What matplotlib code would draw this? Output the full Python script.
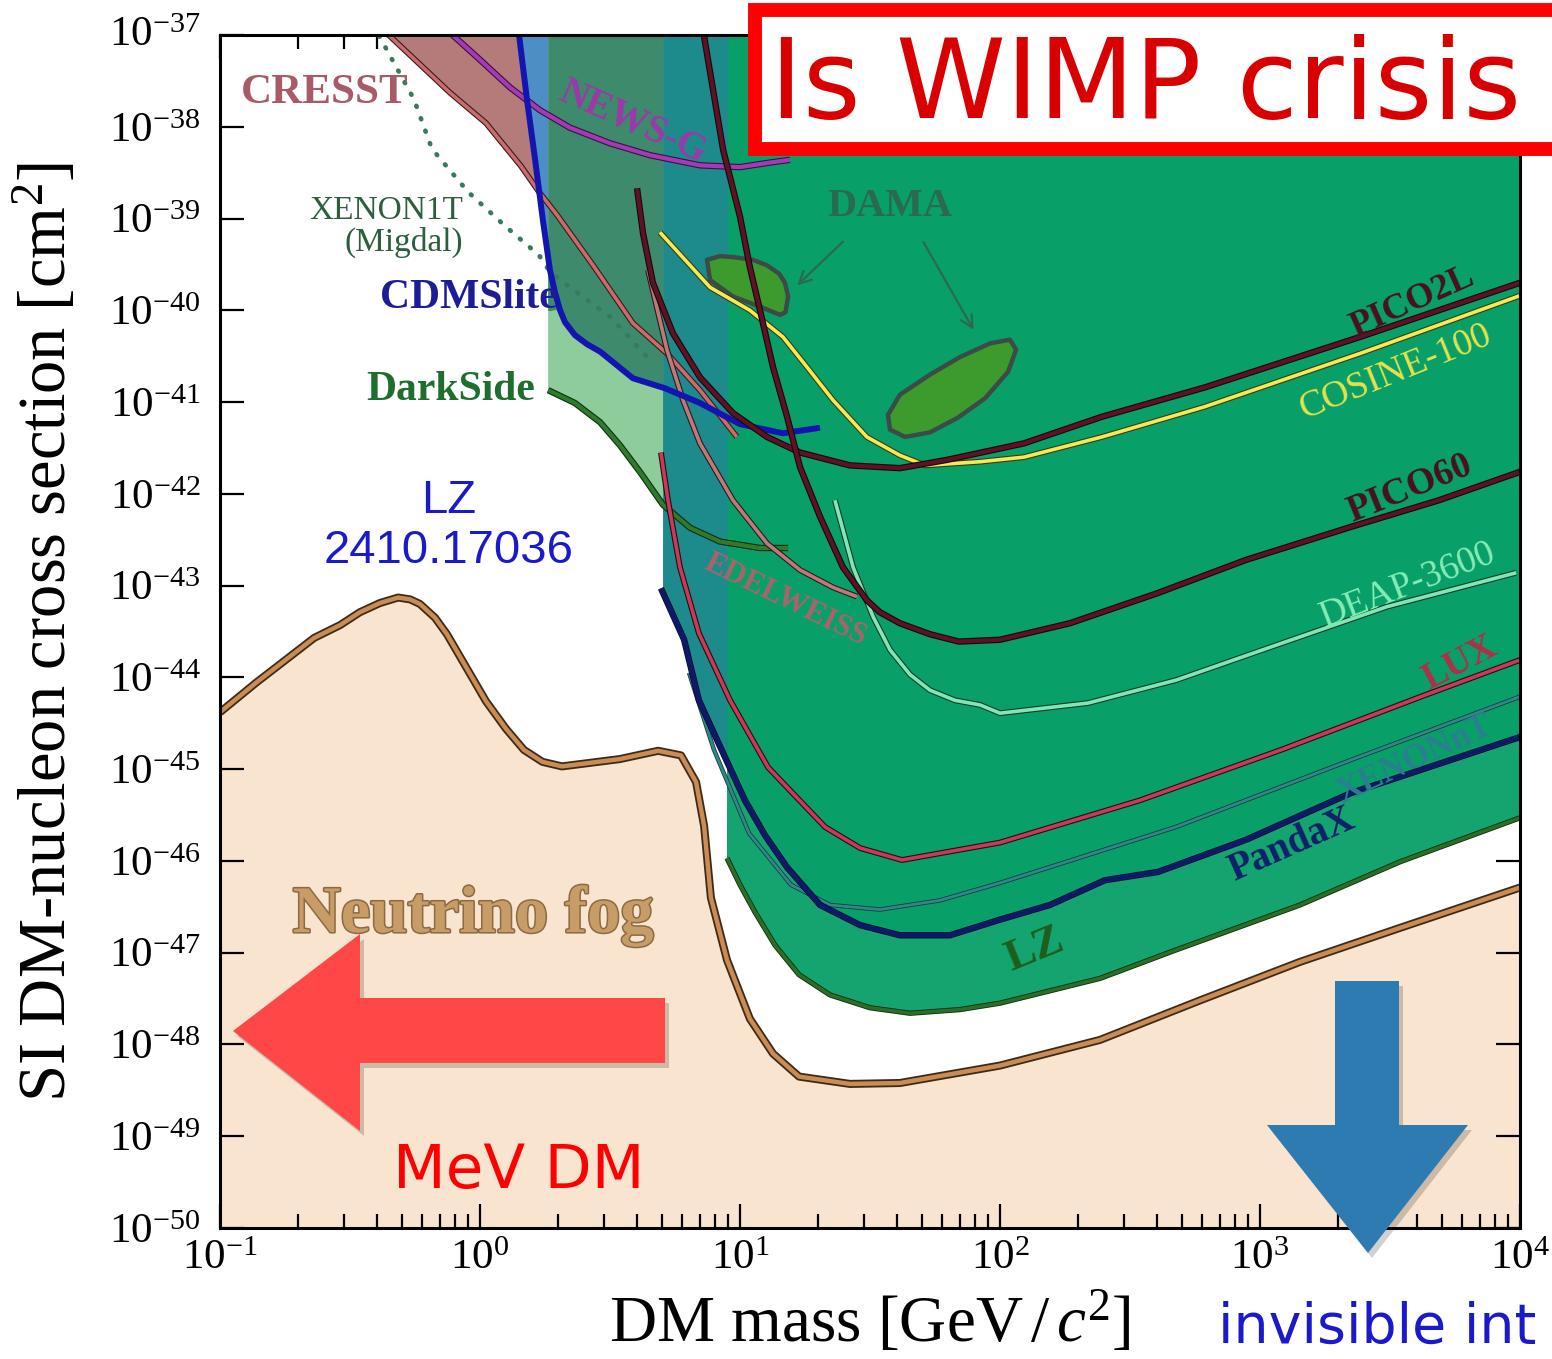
import numpy as np
import matplotlib
matplotlib.use('Agg')
import matplotlib.pyplot as plt
from matplotlib.patches import Polygon, Rectangle
import matplotlib.patheffects as pe
from matplotlib.ticker import LogLocator, NullLocator, NullFormatter, FuncFormatter

# ---------------- data: log10(mass / GeV) and log10(sigma / cm^2) ----------------
fog_lx = [-1.000, -0.862, -0.638, -0.538, -0.462, -0.385, -0.315, -0.269, -0.231, -0.173, -0.127, 0.023,
          0.100, 0.169, 0.240, 0.315, 0.538, 0.685, 0.773, 0.831, 0.862, 0.888, 0.950, 1.038, 1.127, 1.227,
          1.423, 1.615, 2.000, 2.385, 2.769, 3.154, 3.538, 4.000]
fog_ly = [-44.38, -44.06, -43.57, -43.43, -43.29, -43.19, -43.13, -43.15, -43.20, -43.35, -43.53, -44.26,
          -44.56, -44.79, -44.92, -44.97, -44.89, -44.80, -44.85, -45.14, -45.62, -46.40, -47.08, -47.72,
          -48.10, -48.35, -48.43, -48.42, -48.23, -47.95, -47.52, -47.10, -46.73, -46.29]

lz_lx = [0.950, 1.000, 1.058, 1.135, 1.227, 1.346, 1.500, 1.654, 1.846, 2.000, 2.385, 2.677, 3.154, 3.538, 4.000]
lz_ly = [-45.97, -46.26, -46.56, -46.92, -47.24, -47.46, -47.60, -47.66, -47.62, -47.55, -47.28, -46.97, -46.48, -46.01, -45.53]

pandax_lx = [0.696, 0.785, 0.842, 0.900, 1.019, 1.096, 1.181, 1.308, 1.462, 1.615, 1.808, 2.000, 2.192, 2.404,
             2.608, 2.946, 3.350, 4.000]
pandax_ly = [-43.03, -43.59, -44.25, -44.61, -45.34, -45.72, -46.07, -46.48, -46.70, -46.81, -46.81, -46.64,
             -46.48, -46.21, -46.12, -45.77, -45.26, -44.65]

xenonnt_lx = [0.804, 0.900, 1.035, 1.196, 1.346, 1.538, 1.769, 2.000, 2.677, 3.350, 4.000]
xenonnt_ly = [-43.95, -44.79, -45.70, -46.26, -46.48, -46.53, -46.43, -46.24, -45.63, -44.90, -44.21]

lux_lx = [0.696, 0.723, 0.769, 0.842, 0.962, 1.108, 1.192, 1.327, 1.462, 1.623, 2.000, 2.538, 3.081, 3.619, 4.000]
lux_ly = [-41.55, -42.07, -42.80, -43.52, -44.25, -44.98, -45.23, -45.63, -45.86, -45.99, -45.80, -45.34, -44.79,
          -44.21, -43.81]

deap_lx = [1.365, 1.435, 1.512, 1.577, 1.654, 1.731, 1.827, 1.923, 2.000, 2.338, 2.677, 3.081, 3.488, 3.985]
deap_ly = [-42.07, -42.80, -43.34, -43.70, -43.97, -44.14, -44.25, -44.30, -44.39, -44.28, -44.03, -43.63,
           -43.23, -42.86]

pico60_lx = [0.858, 0.935, 1.000, 1.038, 1.077, 1.127, 1.181, 1.231, 1.308, 1.396, 1.488, 1.538, 1.615, 1.731,
             1.842, 2.000, 2.269, 2.608, 2.946, 3.350, 3.688, 4.000]
pico60_ly = [-36.95, -38.25, -38.98, -39.53, -40.00, -40.62, -41.16, -41.71, -42.25, -42.80, -43.16, -43.29,
             -43.41, -43.53, -43.61, -43.59, -43.41, -43.08, -42.72, -42.36, -42.07, -41.76]

pico2l_lx = [0.604, 0.627, 0.665, 0.742, 0.846, 0.973, 1.104, 1.231, 1.423, 1.615, 1.796, 2.092, 2.392, 2.788, 3.385, 4.000]
pico2l_ly = [-38.67, -39.16, -39.70, -40.25, -40.73, -41.12, -41.38, -41.55, -41.69, -41.72, -41.63, -41.45, -41.16, -40.84, -40.29, -39.70]

cosine_lx = [0.692, 0.885, 1.038, 1.165, 1.258, 1.358, 1.488, 1.615, 1.712, 1.923, 2.092, 2.392, 2.788, 3.385, 4.000]
cosine_ly = [-39.15, -39.75, -40.00, -40.29, -40.62, -40.98, -41.38, -41.58, -41.69, -41.65, -41.60, -41.38, -41.05, -40.47, -39.84]

edelweiss_lx = [0.646, 0.719, 0.781, 0.846, 0.973, 1.104, 1.231, 1.358, 1.450]
edelweiss_ly = [-39.56, -40.43, -40.98, -41.45, -42.07, -42.54, -42.83, -43.02, -43.12]

cresst_lx = [-0.370, -0.115, 0.023, 0.158, 0.227, 0.296, 0.435, 0.588, 0.719, 0.846, 0.988]
cresst_ly = [-36.95, -37.63, -37.96, -38.43, -38.71, -38.96, -39.51, -40.14, -40.47, -40.87, -41.38]

cdmslite_lx = [0.148, 0.181, 0.212, 0.242, 0.269, 0.288, 0.308, 0.327, 0.365, 0.412, 0.462, 0.588, 0.712,
               0.846, 1.000, 1.165, 1.308]
cdmslite_ly = [-36.95, -37.71, -38.36, -39.02, -39.56, -39.80, -40.00, -40.13, -40.27, -40.37, -40.45, -40.74,
               -40.85, -41.01, -41.24, -41.34, -41.28]

newsg_lx = [-0.125, 0.000, 0.115, 0.231, 0.346, 0.500, 0.654, 0.846, 1.000, 1.115, 1.192]
newsg_ly = [-36.95, -37.27, -37.57, -37.82, -38.01, -38.18, -38.31, -38.42, -38.44, -38.39, -38.36]

migdal_lx = [-0.388, -0.254, -0.185, -0.046, 0.092, 0.227, 0.269, 0.365, 0.504, 0.669]
migdal_ly = [-37.01, -37.70, -38.24, -38.71, -39.07, -39.40, -39.58, -39.79, -40.08, -40.59]

darkside_lx = [0.262, 0.365, 0.462, 0.538, 0.615, 0.704, 0.808, 0.923, 1.077, 1.185]
darkside_ly = [-40.87, -41.01, -41.22, -41.47, -41.76, -42.12, -42.37, -42.52, -42.59, -42.59]

dama1_lx = [0.873, 0.923, 0.973, 1.050, 1.104, 1.150, 1.173, 1.185, 1.175, 1.154, 1.077, 0.973, 0.885]
dama1_ly = [-39.45, -39.41, -39.42, -39.45, -39.51, -39.60, -39.70, -39.85, -40.02, -40.05, -39.96, -39.85, -39.67]
dama2_lx = [1.569, 1.615, 1.731, 1.846, 1.962, 2.038, 2.062, 2.031, 1.942, 1.838, 1.731, 1.635, 1.577]
dama2_ly = [-41.14, -40.92, -40.70, -40.51, -40.36, -40.32, -40.43, -40.67, -40.96, -41.17, -41.33, -41.38, -41.30]

# shaded exclusion regions (boundaries)
cresst_reg_lx = [-0.37, 0.150, 0.150, 0.181, 0.212, 0.230, 0.158, 0.023, -0.115, -0.362]
cresst_reg_ly = [-36.9, -36.9, -37.00, -37.71, -38.36, -38.73, -38.43, -37.96, -37.63, -36.98]
blue_reg_lx = [0.150, 0.262, 0.262, 0.242, 0.212, 0.181, 0.150]
blue_reg_ly = [-36.9, -36.9, -39.40, -39.02, -38.36, -37.71, -37.00]
dark_reg_lx = [0.262, 0.704, 0.704, 0.588, 0.462, 0.365, 0.308, 0.262]
dark_reg_ly = [-36.9, -36.9, -40.84, -40.74, -40.45, -40.27, -40.00, -40.01]
ds_reg_lx = [0.262, 0.308, 0.365, 0.462, 0.588, 0.704, 0.704, 0.615, 0.538, 0.462, 0.365, 0.262]
ds_reg_ly = [-40.01, -40.00, -40.27, -40.45, -40.74, -40.84, -42.12, -41.76, -41.47, -41.22, -41.01, -40.87]
teal_reg_lx = [0.704, 0.954, 0.954, 0.900, 0.842, 0.785, 0.704]
teal_reg_ly = [-36.9, -36.9, -44.93, -44.61, -44.25, -43.59, -43.08]

x_ticks_exp = [-1, 0, 1, 2, 3, 4]
y_top_exp = -37

# ---------------- figure ----------------
plt.rcParams['font.family'] = ['Liberation Serif', 'DejaVu Serif']
plt.rcParams['mathtext.fontset'] = 'custom'
plt.rcParams['mathtext.rm'] = 'Liberation Serif'
plt.rcParams['mathtext.it'] = 'Liberation Serif:italic'
plt.rcParams['mathtext.bf'] = 'Liberation Serif:bold'

W, H = 1552, 1359
fig = plt.figure(figsize=(W / 100, H / 100), dpi=100)
ax = fig.add_axes([220 / W, 1 - 1228 / H, 1300 / W, 1193 / H])
ax.set_xscale('log')
ax.set_yscale('log')
ax.set_xlim(10.0 ** x_ticks_exp[0], 10.0 ** x_ticks_exp[-1])
ax.set_ylim(1e-50, 10.0 ** y_top_exp)


def xy(lx, ly):
    return 10.0 ** np.asarray(lx, float), 10.0 ** np.asarray(ly, float)


def region(lx, ly, color, z=2.0):
    x, y = xy(lx, ly)
    ax.add_patch(Polygon(np.column_stack([x, y]), closed=True, fc=color, ec='none', zorder=z))


def curve(lx, ly, color, lw, edge=None, ew=None, z=4, **kw):
    x, y = xy(lx, ly)
    eff = [pe.Stroke(linewidth=ew, foreground=edge), pe.Normal()] if edge else []
    ax.plot(x, y, color=color, lw=lw, zorder=z, path_effects=eff, solid_capstyle='butt',
            solid_joinstyle='round', **kw)


# neutrino fog
fx, fy = xy(fog_lx, fog_ly)
ax.fill_between(fx, fy, 1e-52, color='#f9e4cf', lw=0, zorder=1)

# regions
region(cresst_reg_lx, cresst_reg_ly, '#b47b7a')
region(blue_reg_lx, blue_reg_ly, '#4d8fc4')
region(dark_reg_lx, dark_reg_ly, '#3d8a6c')
region(ds_reg_lx, ds_reg_ly, '#8fcc9b')
region(teal_reg_lx, teal_reg_ly, '#1d8a8c')
region([0.954, 4.05, 4.05] + lz_lx[::-1], [-36.9, -36.9, lz_ly[-1]] + lz_ly[::-1], '#08a068')
region([0.954] + pandax_lx[4:] + lz_lx[::-1], [-44.93] + pandax_ly[4:] + lz_ly[::-1], '#14a46f', z=2.1)

# DAMA islands
for dlx, dly in [(dama1_lx, dama1_ly), (dama2_lx, dama2_ly)]:
    x, y = xy(dlx, dly)
    ax.add_patch(Polygon(np.column_stack([x, y]), closed=True, fc='#3d9b2e', ec='#3b4b45',
                         lw=3.2, joinstyle='round', zorder=3.5))

# curves
curve(fog_lx, fog_ly, '#c98c55', 3.2, '#3d2a18', 5.8, z=3)
curve(darkside_lx, darkside_ly, '#2f7a2f', 3.0, '#0f300f', 4.6)
curve(migdal_lx, migdal_ly, '#3a7a5a', 3.4, z=4, linestyle=(0, (0.2, 2.6)), dash_capstyle='round')
curve(cresst_lx, cresst_ly, '#c86c6c', 2.6, '#3a1a1a', 4.2)
curve(edelweiss_lx, edelweiss_ly, '#be7a7a', 2.6, '#2a1a1a', 4.2)
curve(newsg_lx, newsg_ly, '#a53ab5', 3.0, '#3a1040', 4.6)
curve(cdmslite_lx, cdmslite_ly, '#1414b0', 4.3)
curve(pico2l_lx, pico2l_ly, '#5e1226', 3.0, '#1a0508', 4.6, z=4.2)
curve(cosine_lx, cosine_ly, '#f2ea5a', 2.6, '#3a3a10', 4.2, z=4.1)
curve(pico60_lx, pico60_ly, '#5e1226', 3.0, '#1a0508', 4.6, z=4.3)
curve(deap_lx, deap_ly, '#7ee8b4', 2.6, '#1a3a2a', 4.2)
curve(lux_lx, lux_ly, '#c83a5a', 2.6, '#2a0a10', 4.2)
curve(xenonnt_lx, xenonnt_ly, '#2f8888', 2.0, '#183c40', 3.2)
curve(pandax_lx, pandax_ly, '#0e1a66', 3.6, '#050a30', 4.6)
curve(lz_lx, lz_ly, '#2a6e2a', 2.6, '#0d2d0d', 3.8)

# DAMA arrows
for (x0, y0), (x1, y1) in [((1.404, -39.23), (1.212, -39.75)), ((1.700, -39.23), (1.904, -40.24))]:
    ax.annotate('', xy=(10 ** x1, 10 ** y1), xytext=(10 ** x0, 10 ** y0), zorder=5,
                arrowprops=dict(arrowstyle='->', color='#2b6a52', lw=1.6, mutation_scale=22))

# labels
labels = [
    ('CRESST', -0.596, -37.63, 0, '#a85a66', 31, 'bold'),
    ('NEWS-G', 0.585, -37.95, -24, '#9a3aa8', 28, 'bold'),
    ('CDMSlite', -0.042, -39.87, 0, '#1c1c98', 30, 'bold'),
    ('DarkSide', -0.112, -40.87, 0, '#1e6e2e', 30, 'bold'),
    ('DAMA', 1.577, -38.87, 0, '#2a6a50', 29, 'bold'),
    ('PICO2L', 3.585, -39.91, 24, '#4a1020', 26, 'bold'),
    ('COSINE-100', 3.523, -40.67, 22, '#e8e24a', 27, 'normal'),
    ('PICO60', 3.577, -41.94, 22, '#4a1020', 27, 'bold'),
    ('DEAP-3600', 3.569, -42.99, 21, '#86ecb6', 27, 'normal'),
    ('LUX', 3.769, -43.84, 28, '#b03048', 27, 'bold'),
    ('XENONnT', 3.596, -44.90, 25, '#2a7f8f', 25, 'bold'),
    ('PandaX', 3.123, -45.83, 24, '#10206a', 28, 'bold'),
    ('LZ', 2.135, -46.97, 22, '#1e5e1e', 32, 'bold'),
    ('EDELWEISS', 1.173, -43.16, -26, '#a8646c', 22, 'bold'),
]
for txt, lx, ly, rot, col, size, wt in labels:
    ax.text(10 ** lx, 10 ** ly, txt, rotation=rot, rotation_mode='anchor', ha='center', va='center',
            color=col, fontsize=size, fontweight=wt, zorder=7)

ax.text(10 ** -0.065, 10 ** -39.09, 'XENON1T\n(Migdal)', ha='right', va='center', multialignment='right',
        color='#2d5e3e', fontsize=24, linespacing=1.05, zorder=7)
ax.text(10 ** -0.027, 10 ** -46.59, 'Neutrino fog', ha='center', va='center', color='#c79c66',
        fontsize=48, fontweight='bold', zorder=7,
        path_effects=[pe.Stroke(linewidth=2.2, foreground='#8b6a45'), pe.Normal()])
ax.text(10 ** -0.119, 10 ** -42.35, 'LZ\n2410.17036', ha='center', va='center', multialignment='center',
        color='#1a1acc', fontsize=34, family='Liberation Sans', linespacing=1.15, zorder=7)


# axes styling
def y_decade(v, pos):
    e = int(round(np.log10(v)))
    # the topmost label is drawn separately (top-aligned) so it stays inside the figure
    return '' if e == y_top_exp else r'$\mathdefault{10^{%d}}$' % e


ax.xaxis.set_major_locator(LogLocator(base=10, numticks=15))
ax.xaxis.set_minor_locator(LogLocator(base=10, subs=np.arange(2, 10), numticks=15))
ax.xaxis.set_minor_formatter(NullFormatter())
ax.yaxis.set_major_locator(LogLocator(base=10, numticks=20))
ax.yaxis.set_minor_locator(NullLocator())
ax.yaxis.set_major_formatter(FuncFormatter(y_decade))
ax.tick_params(which='both', direction='in', top=True, right=True, width=1.6, colors='black')
ax.tick_params(which='major', length=17, labelsize=31)
ax.tick_params(which='minor', length=10)
ax.tick_params(axis='x', which='major', pad=8)
ax.tick_params(axis='y', which='major', pad=14)
for s in ax.spines.values():
    s.set_linewidth(2.2)
    s.set_zorder(6)

fig.text(201 / W, 1 - 16 / H, r'$\mathdefault{10^{%d}}$' % y_top_exp, ha='right', va='top', fontsize=31)

ax.set_xlabel(r'DM mass [GeV$\,/\,\mathit{c}^{2}$]', fontsize=47)
ax.set_ylabel(r'SI DM-nucleon cross section [cm$^{2}$]', fontsize=48)
ax.xaxis.set_label_coords(0.5, -0.079)
ax.xaxis.label.set_va('center')
ax.yaxis.set_label_coords(-0.133, 0.5)
ax.yaxis.label.set_va('center')


# ---------------- annotations (figure pixel coordinates) ----------------
def fp(pts):
    return [(x / W, 1 - y / H) for x, y in pts]


red_arrow_px = [(233, 1031), (360, 934), (360, 998), (665, 998), (665, 1063), (360, 1063), (360, 1131)]
blue_arrow_px = [(1335, 981), (1399, 981), (1399, 1125), (1468, 1125), (1368, 1253), (1267, 1125), (1335, 1125)]
for pts, col in [(red_arrow_px, '#ff4747'), (blue_arrow_px, '#2e7bb2')]:
    shadow = [(x + 4, y + 5) for x, y in pts]
    fig.add_artist(Polygon(fp(shadow), closed=True, fc='black', alpha=0.18, ec='none',
                           transform=fig.transFigure, zorder=9))
    fig.add_artist(Polygon(fp(pts), closed=True, fc=col, ec='none', transform=fig.transFigure, zorder=10))

fig.add_artist(Rectangle((755 / W, 1 - 149 / H), 900 / W, 139 / H, transform=fig.transFigure,
                         fc='white', ec='#ff0000', lw=10, zorder=10, clip_on=False))
fig.text(770 / W, 1 - 118 / H, 'Is WIMP crisis', color='#d80000', fontsize=80, family='DejaVu Sans',
         ha='left', va='baseline', zorder=11)
fig.text(519 / W, 1 - 1188 / H, 'MeV DM', color='#ff0000', fontsize=44, family='DejaVu Sans',
         ha='center', va='baseline', zorder=11)
fig.text(1218 / W, 1 - 1343 / H, 'invisible int', color='#1a1acc', fontsize=40, family='DejaVu Sans',
         ha='left', va='baseline', zorder=11)

fig.savefig('out.png', dpi=100)
